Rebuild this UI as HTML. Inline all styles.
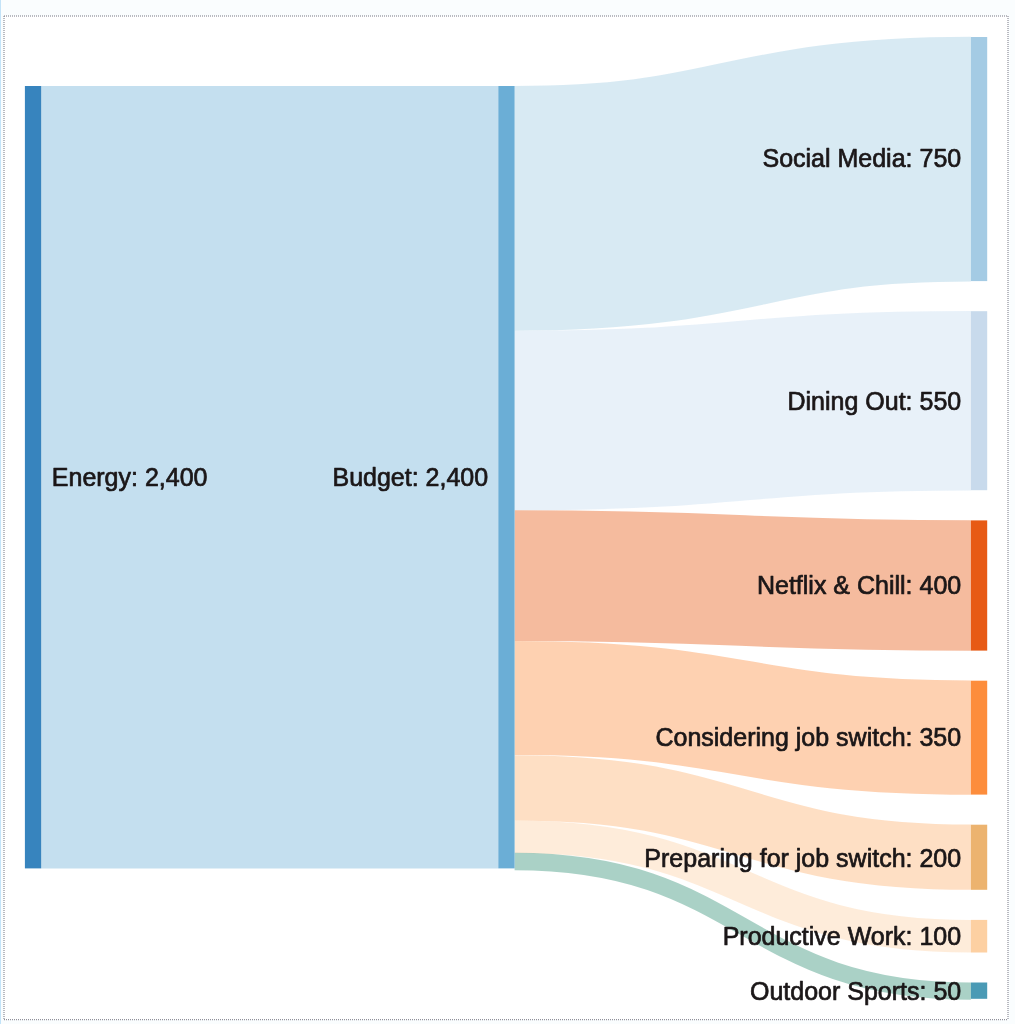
<!DOCTYPE html>
<html lang="en">
<head>
<meta charset="utf-8">
<title>Sankey: Energy Budget</title>
<style>
html,body{margin:0;padding:0;background:#fafdfe;}
body{width:1015px;height:1024px;overflow:hidden;position:relative;}
#edge{position:absolute;left:0;top:0;width:1px;height:1024px;background:#c3e3f8;}
svg{position:absolute;left:0;top:0;}
text{font-family:"Liberation Sans",Arial,Helvetica,sans-serif;font-size:25.0px;fill:#1b1718;stroke:#1b1718;stroke-width:0.7px;stroke-linejoin:round;}
</style>
</head>
<body>
<div id="edge"></div>
<svg width="1015" height="1024" viewBox="0 0 1015 1024">
<rect x="4" y="16" width="1004" height="1003.7" fill="#ffffff"/>
<g stroke="#777783" stroke-width="1" stroke-dasharray="1 1" fill="none">
<line x1="4" y1="16" x2="1008" y2="16"/>
<line x1="4" y1="1019.7" x2="1008" y2="1019.7"/>
<line x1="4" y1="16" x2="4" y2="1020"/>
<line x1="1008" y1="16" x2="1008" y2="1020"/>
</g>

<g fill="none" stroke-opacity="0.4">
<path d="M41.2,477.2 L498.3,477.2" stroke="#6baed6" stroke-width="782.4"/>
<path d="M514.6,208.4 C742.8,208.4 742.8,159.1 970.9,159.1" stroke="#9ecae1" stroke-width="244.8"/>
<path d="M514.6,420.6 C742.8,420.6 742.8,400.7 970.9,400.7" stroke="#c6dbef" stroke-width="179.5"/>
<path d="M514.6,575.6 C742.8,575.6 742.8,585.5 970.9,585.5" stroke="#e6550d" stroke-width="130.6"/>
<path d="M514.6,698.0 C742.8,698.0 742.8,737.6 970.9,737.6" stroke="#fd8d3c" stroke-width="114.2"/>
<path d="M514.6,787.8 C742.8,787.8 742.8,857.2 970.9,857.2" stroke="#fdae6b" stroke-width="65.3"/>
<path d="M514.6,836.7 C742.8,836.7 742.8,936.2 970.9,936.2" stroke="#fdd0a2" stroke-width="32.6"/>
<path d="M514.6,861.5 C742.8,861.5 742.8,991.1 970.9,991.1" stroke="#2b8c70" stroke-width="17.3"/>
</g>
<g>
<rect x="24.9" y="86.0" width="16.3" height="782.4" fill="#3784be"/>
<rect x="498.3" y="86.0" width="16.3" height="782.4" fill="#6baed6"/>
<rect x="970.9" y="37.0" width="16.3" height="244.1" fill="#a4cbe4"/>
<rect x="970.9" y="311.2" width="16.3" height="179.0" fill="#c8daec"/>
<rect x="970.9" y="520.4" width="16.3" height="130.2" fill="#e75a15"/>
<rect x="970.9" y="680.7" width="16.3" height="113.9" fill="#fd8d3c"/>
<rect x="970.9" y="824.7" width="16.3" height="65.1" fill="#ecb36f"/>
<rect x="970.9" y="919.9" width="16.3" height="32.6" fill="#fdd0a2"/>
<rect x="970.9" y="982.5" width="16.3" height="16.3" fill="#4a9ab5"/>
</g>
<g>
<text x="51.8" y="486.1">Energy: 2,400</text>
<text x="488.2" y="486.1" text-anchor="end">Budget: 2,400</text>
<text x="961.2" y="167.3" text-anchor="end">Social Media: 750</text>
<text x="961.2" y="410.0" text-anchor="end">Dining Out: 550</text>
<text x="961.2" y="594.4" text-anchor="end">Netflix &amp; Chill: 400</text>
<text x="961.2" y="746.1" text-anchor="end">Considering job switch: 350</text>
<text x="961.2" y="866.7" text-anchor="end">Preparing for job switch: 200</text>
<text x="961.2" y="945.1" text-anchor="end">Productive Work: 100</text>
<text x="961.2" y="999.6" text-anchor="end">Outdoor Sports: 50</text>
</g>
</svg>
</body>
</html>
